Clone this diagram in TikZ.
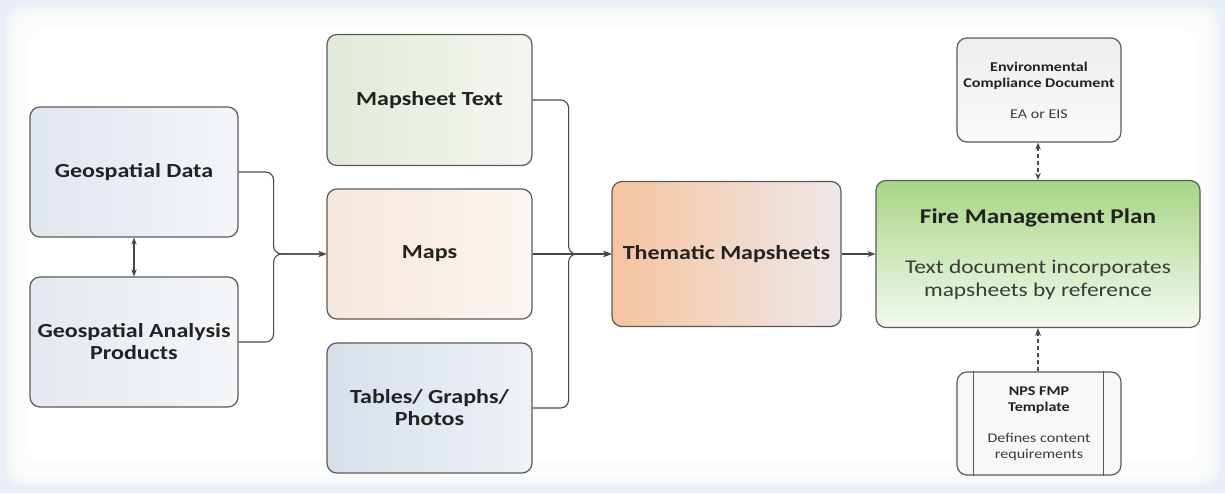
\documentclass[tikz,border=0pt]{standalone}
\usepackage{fontspec}
\setmainfont[FakeStretch=1.2]{Carlito}
\usetikzlibrary{arrows.meta,calc}

\definecolor{bgblue}{HTML}{E9EFF6}
\definecolor{edge}{HTML}{5A5A5A}
\definecolor{ink}{HTML}{222222}
\definecolor{soft}{HTML}{3A3A3A}
\definecolor{wire}{HTML}{474747}

\begin{document}
\begin{tikzpicture}[x=1pt,y=-1pt,
  box/.style={draw=edge, line width=1.2pt, rounded corners=10pt, align=center,
    text=ink, inner sep=4pt},
  big/.style={font=\fontsize{20}{22}\selectfont\bfseries},
  small/.style={font=\fontsize{13.4}{16}\selectfont},
  conn/.style={draw=wire, line width=1.1pt, -{Stealth[length=8pt,width=6pt]}},
  both/.style={draw=wire, line width=1.1pt, {Stealth[length=7pt,width=5.5pt]}-{Stealth[length=7pt,width=5.5pt]}},
  dashy/.style={dash pattern=on 4pt off 3pt}
]
\useasboundingbox (0,0) rectangle (1225,493);

% page background: pale blue frame fading into a white field
\fill[bgblue] (0,0) rectangle (1225,493);
\foreach \i in {0,...,11}{
  \fill[white, opacity=0.25, rounded corners=16pt]
    (6+2*\i, 6+2*\i) rectangle (1220-2*\i, 486-2*\i);
}
\fill[white, rounded corners=12pt] (30,30) rectangle (1196,462);

% source data
\node[box, big, minimum width=208pt, minimum height=130pt,
  left color={rgb,255:red,225;green,231;blue,239}, right color={rgb,255:red,243;green,245;blue,248}]
  (gd) at (134,172) {Geospatial Data};
\node[box, big, minimum width=208pt, minimum height=130pt,
  left color={rgb,255:red,228;green,233;blue,239}, right color={rgb,255:red,244;green,246;blue,248}]
  (gap) at (134,342) {Geospatial Analysis\\Products};

% mapsheet components
\node[box, big, minimum width=205pt, minimum height=131pt,
  left color={rgb,255:red,225;green,234;blue,217}, right color={rgb,255:red,244;green,246;blue,240}]
  (mtext) at (429.5,100) {Mapsheet Text};
\node[box, big, minimum width=205pt, minimum height=130pt,
  left color={rgb,255:red,246;green,231;blue,220}, right color={rgb,255:red,251;green,246;blue,242}]
  (maps) at (429.5,254) {Maps};
\node[box, big, minimum width=205pt, minimum height=130pt,
  left color={rgb,255:red,214;green,224;blue,235}, right color={rgb,255:red,239;green,242;blue,246}]
  (tables) at (429.5,408) {Tables/ Graphs/\\Photos};

% assembled mapsheets and the plan
\node[box, big, minimum width=229pt, minimum height=145pt,
  left color={rgb,255:red,246;green,196;blue,160}, middle color={rgb,255:red,242;green,216;blue,200},
  right color={rgb,255:red,238;green,232;blue,232}]
  (them) at (726.5,254) {Thematic Mapsheets};
\node[box, minimum width=324pt, minimum height=147pt,
  font=\fontsize{19.5}{23}\selectfont,
  top color={rgb,255:red,166;green,214;blue,132}, bottom color={rgb,255:red,244;green,250;blue,240}]
  (fmp) at (1038,254)
  {{\fontsize{21}{24}\selectfont\bfseries Fire Management Plan}\\[27pt]
   {\color{soft}Text document incorporates}\\
   {\color{soft}mapsheets by reference}};

% supporting documents
\node[box, small, minimum width=164pt, minimum height=104pt,
  top color={rgb,255:red,238;green,238;blue,238}, bottom color={rgb,255:red,250;green,250;blue,250}]
  (env) at (1039,90)
  {\bfseries Environmental\\\bfseries Compliance Document\\[15pt]
   \color{soft}EA or EIS};
\node[box, small, minimum width=164pt, minimum height=103pt,
  fill={rgb,255:red,248;green,248;blue,248}]
  (nps) at (1039,423.5)
  {\bfseries NPS FMP\\\bfseries Template\\[15pt]
   \color{soft}Defines content\\\color{soft}requirements};
\draw[edge, line width=1.2pt] ($(nps.north west)+(17,0)$) -- ($(nps.south west)+(17,0)$);
\draw[edge, line width=1.2pt] ($(nps.north east)+(-18,0)$) -- ($(nps.south east)+(-18,0)$);

% connectors
\draw[both] (gd.south) -- (gap.north);
\draw[conn, rounded corners=8pt] (gd.east) -- ++(35,0) |- (maps.west);
\draw[conn, rounded corners=8pt] (gap.east) -- ++(35,0) |- (maps.west);

\draw[conn, rounded corners=8pt] (mtext.east) -- ++(36,0) |- (them.west);
\draw[conn] (maps.east) -- (them.west);
\draw[conn, rounded corners=8pt] (tables.east) -- ++(36,0) |- (them.west);

\draw[conn] (them.east) -- (fmp.west);
\draw[both, dashy] (env.south -| fmp.north) -- (fmp.north);
\draw[conn, dashy] (nps.north -| fmp.south) -- (fmp.south);
\end{tikzpicture}
\end{document}
